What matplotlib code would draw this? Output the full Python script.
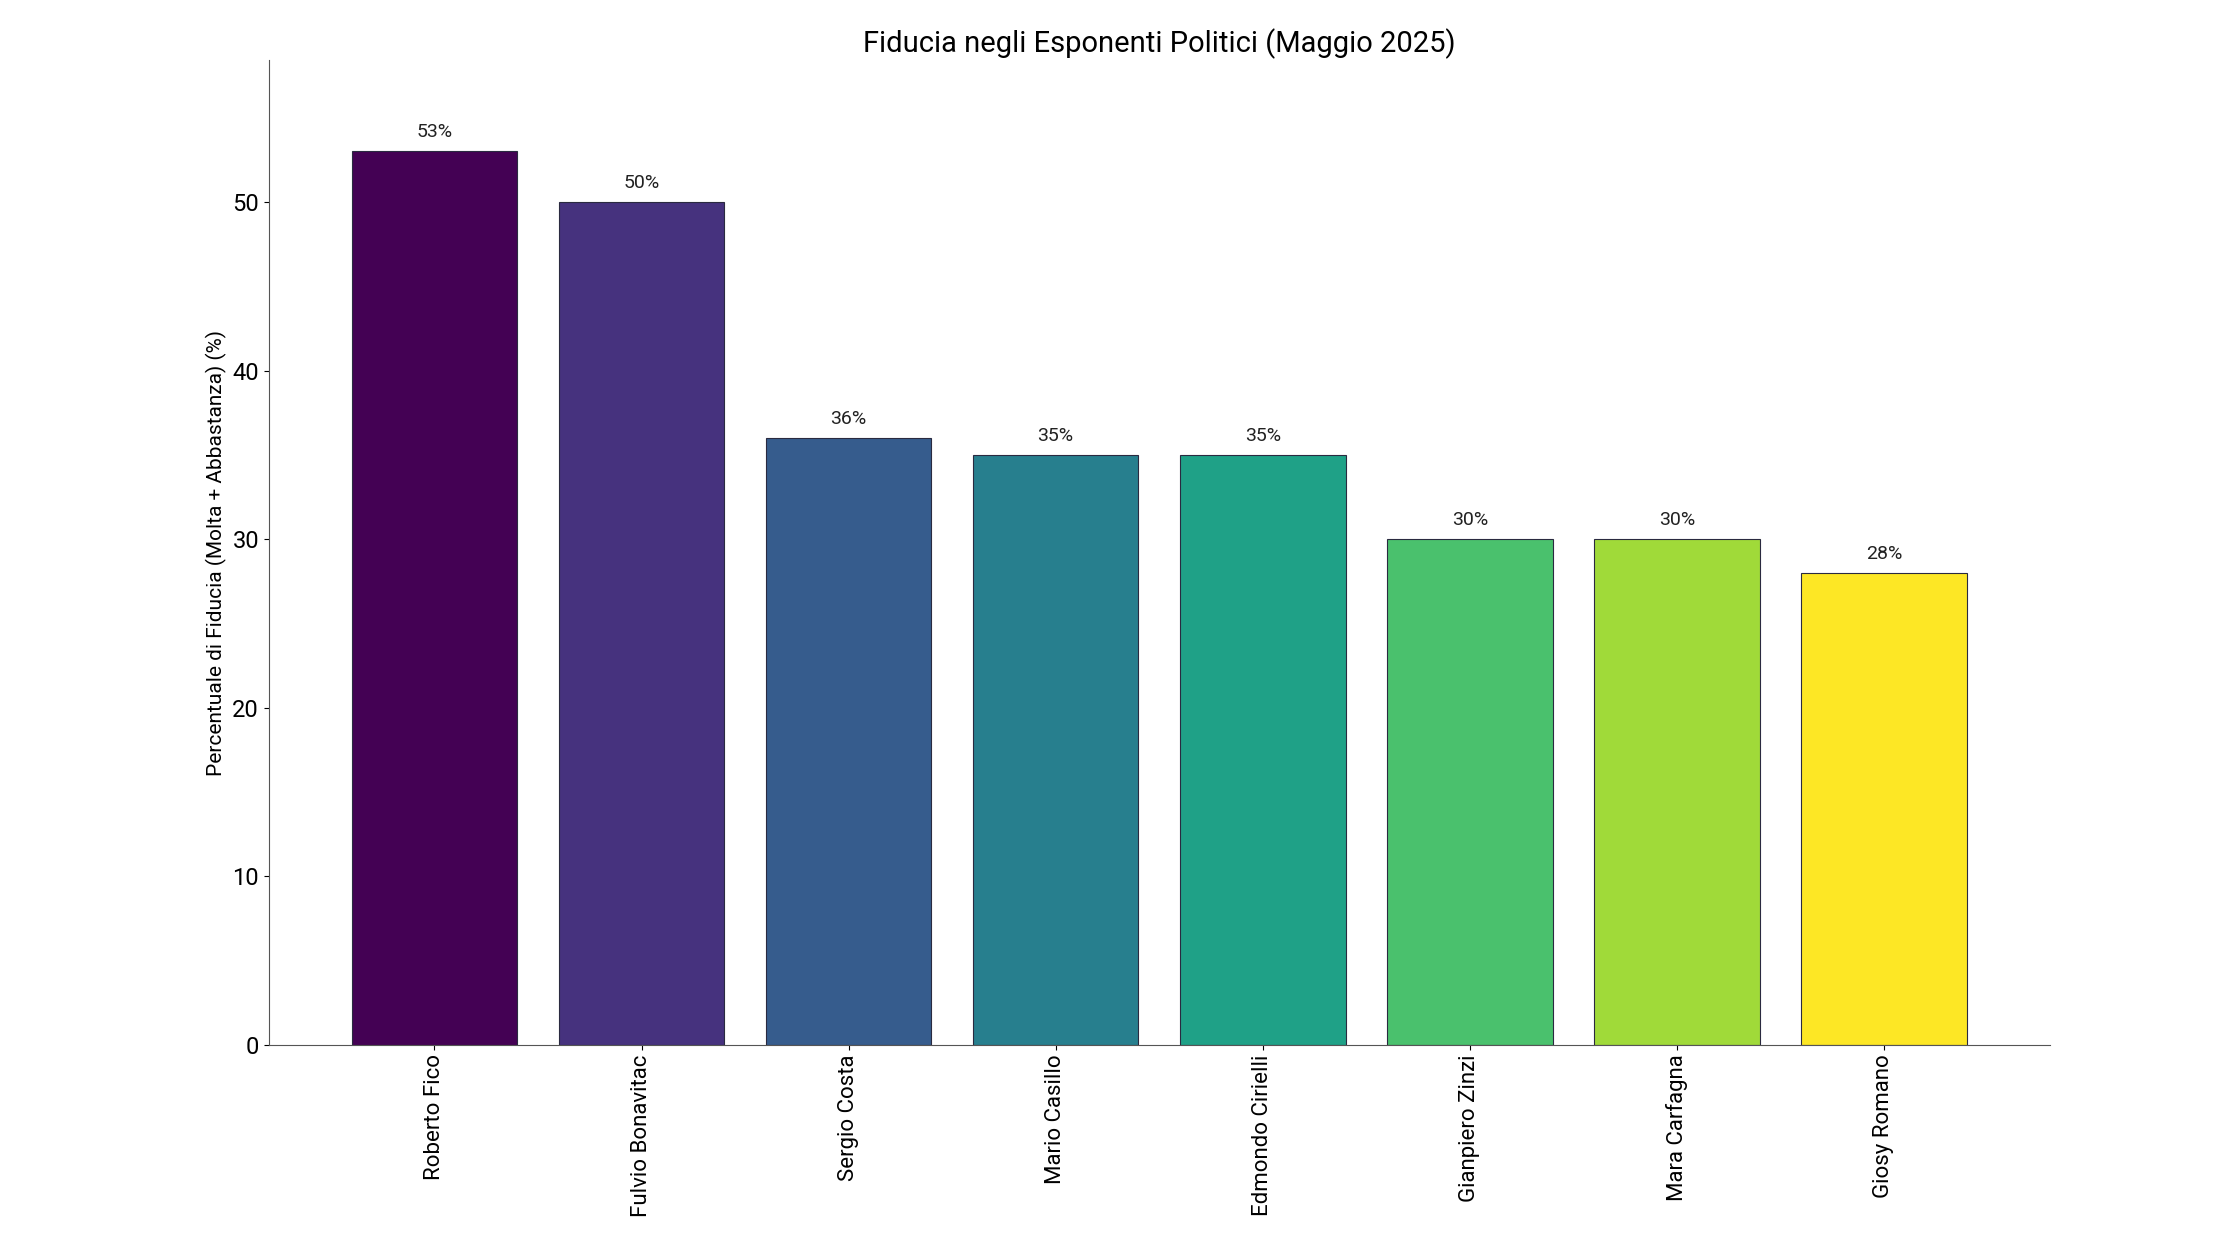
import matplotlib.pyplot as plt
import numpy as np

names = ['Roberto Fico', 'Fulvio Bonavitac', 'Sergio Costa', 'Mario Casillo',
         'Edmondo Cirielli', 'Gianpiero Zinzi', 'Mara Carfagna', 'Giosy Romano']
fiducia = [53, 50, 36, 35, 35, 30, 30, 28]

plt.rcParams['font.family'] = 'Roboto'
fig = plt.figure(figsize=(22.4, 12.6), dpi=100)
ax = fig.add_axes([0.12, 0.171, 0.795, 0.781])

colors = plt.cm.viridis(np.linspace(0, 1, len(names)))
bars = ax.bar(names, fiducia, color=colors, edgecolor='#2a2a40', linewidth=0.8, width=0.8)
for b, v in zip(bars, fiducia):
    ax.text(b.get_x() + b.get_width() / 2, v + 0.6, f'{v}%', ha='center', va='bottom',
            fontsize=14, color='#222222')

ax.set_ylim(0, 58.4)
ax.set_xlim(-0.8, 7.8)
ax.set_yticks(range(0, 60, 10))
ax.tick_params(axis='y', labelsize=17)
ax.tick_params(axis='x', labelsize=16, rotation=90)
ax.set_ylabel('Percentuale di Fiducia (Molta + Abbastanza) (%)', fontsize=15)
ax.set_title('Fiducia negli Esponenti Politici (Maggio 2025)', fontsize=21, pad=6)
for s in ['top', 'right']:
    ax.spines[s].set_visible(False)
for s in ['left', 'bottom']:
    ax.spines[s].set_color('#555555')

fig.savefig('out.png', dpi=100)
